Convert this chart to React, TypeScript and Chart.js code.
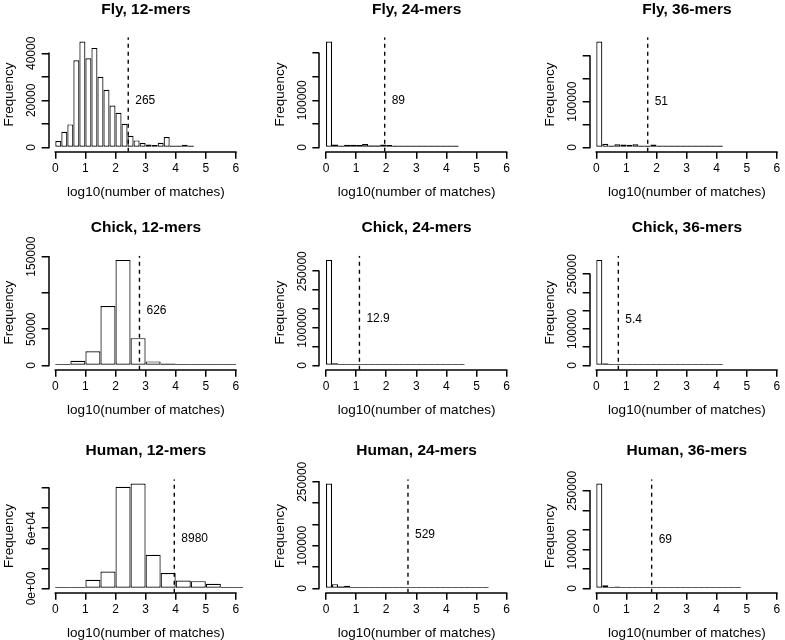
import React, { useEffect, useRef } from 'react';
import { Chart, registerables } from 'chart.js';

Chart.register(...registerables);

const FONT = '"Liberation Sans", Arial, Helvetica, sans-serif';

// ---------- data ----------
const titles = [
  'Fly, 12-mers', 'Fly, 24-mers', 'Fly, 36-mers',
  'Chick, 12-mers', 'Chick, 24-mers', 'Chick, 36-mers',
  'Human, 12-mers', 'Human, 24-mers', 'Human, 36-mers',
];
const binWidths = [0.2, 0.2, 0.2, 0.5, 0.2, 0.2, 0.5, 0.2, 0.2];

const fly12Counts = [2700, 6700, 9800, 37000, 45000, 37900, 42300, 30000, 24500, 17800, 14700, 10100, 5000, 3000, 1850, 1300, 1000, 2000, 4400, 600, 400, 1100, 300];
const fly24Counts = [224800, 6500, 3600, 5800, 5800, 5000, 7200, 4300, 4300, 6500, 5000, 2900, 1400, 700, 500, 500, 600, 2200, 800, 400, 300, 200];
const fly36Counts = [231500, 7900, 3600, 7200, 6500, 5800, 7200, 3600, 2900, 6500, 3600, 1400, 700, 500, 400, 500, 1800, 600, 300, 200, 150];
const chick12Counts = [1400, 6500, 19500, 82000, 145500, 37700, 5600, 2300, 1000, 500, 300, 400];
const chick24Counts = [280000, 6200, 2800, 2200, 1500, 1100, 900, 800, 700, 600, 500, 400, 350, 300, 300, 250, 200, 200, 150, 150, 100, 100, 100];
const chick36Counts = [289000, 5500, 2500, 1800, 1200, 900, 700, 600, 500, 450, 400, 350, 300, 250, 200, 200, 150, 150, 100, 100, 100];
const human12Counts = [200, 1300, 8600, 16900, 101200, 104400, 33500, 15300, 7900, 7300, 4600, 300, 200];
const human24Counts = [246000, 10200, 4700, 6200, 3100, 2500, 2000, 1800, 1500, 1300, 1200, 1000, 900, 900, 800, 800, 700, 700, 900, 600, 500, 400, 300, 300, 200, 200, 150];
const human36Counts = [268500, 8500, 3000, 4300, 2500, 1800, 1500, 1300, 1100, 1000, 900, 800, 700, 600, 600, 500, 500, 400, 400, 300, 300, 200, 200, 150];

const counts = [fly12Counts, fly24Counts, fly36Counts, chick12Counts, chick24Counts, chick36Counts, human12Counts, human24Counts, human36Counts];

const thresholds = [265, 89, 51, 626, 12.9, 5.4, 8980, 529, 69];
const thresholdLabels = ['265', '89', '51', '626', '12.9', '5.4', '8980', '529', '69'];
const thresholdLabelY = [20000, 100000, 100000, 75000, 125000, 125000, 50000, 125000, 125000];

const xTicks = [0, 1, 2, 3, 4, 5, 6];

const yTicksA = [0, 10000, 20000, 30000, 40000];
const yTicksB = [0, 50000, 100000, 150000, 200000];
const yTicksC = [0, 50000, 100000, 150000];
const yTicksD = [0, 50000, 100000, 150000, 200000, 250000];
const yTicksE = [0, 20000, 40000, 60000, 80000, 100000];
const yLabelsA = ['0', '', '20000', '', '40000'];
const yLabelsB = ['0', '', '100000', '', ''];
const yLabelsC = ['0', '50000', '', '150000'];
const yLabelsD = ['0', '', '100000', '', '', '250000'];
const yLabelsE = ['0e+00', '', '', '6e+04', '', ''];

const yTicks = [yTicksA, yTicksB, yTicksB, yTicksC, yTicksD, yTicksD, yTicksE, yTicksD, yTicksD];
const yTickLabels = [yLabelsA, yLabelsB, yLabelsB, yLabelsC, yLabelsD, yLabelsD, yLabelsE, yLabelsD, yLabelsD];

// ---------- layout (pixels) ----------
const ZERO_X = [55.3, 326, 596.3];
const UNIT = 30.1;
const X_MIN = -0.22;
const X_MAX = 6.24;
const PLOT_TOP = [37.3, 255.7, 479.3];
const PLOT_BOTTOM = [151.7, 369.7, 592.7];
const TITLE_Y = [9.5, 228, 450.5];
const CANVAS_LEFT = [0, 262, 524];
const CANVAS_W = [262, 262, 261];
const CANVAS_TOP = [0, 213, 426];
const CANVAS_H = [214, 214, 220];

const TITLE_SIZE = 15.5;
const AXIS_TITLE_SIZE = 13.5;
const TICK_SIZE = 12;
const TEXT_SIZE = 12;
const AXIS_LW = 1.5;

// a bar whose outline collapses to a line (less than ~2 px tall), as R draws it
function isFlat(ctx: any) {
  const ys = ctx.chart.scales.y;
  const v = ctx.raw && typeof ctx.raw.y === 'number' ? ctx.raw.y : 0;
  if (!ys) return false;
  return ys.getPixelForValue(0) - ys.getPixelForValue(v) < 2.2;
}

function Panel({ idx }: { idx: number }) {
  const ref = useRef<HTMLCanvasElement | null>(null);
  const r = Math.floor(idx / 3);
  const c = idx % 3;
  const cl = CANVAS_LEFT[c];
  const ct = CANVAS_TOP[r];
  const W = CANVAS_W[c];
  const H = CANVAS_H[r];

  useEffect(() => {
    const canvas = ref.current;
    if (!canvas) return;
    const L = ZERO_X[c] + X_MIN * UNIT - cl;
    const R = ZERO_X[c] + X_MAX * UNIT - cl;
    const T = PLOT_TOP[r] - ct;
    const B = PLOT_BOTTOM[r] - ct;
    const lhY = AXIS_TITLE_SIZE * 1.2;
    const padLeft = L - 39 - lhY / 2;
    const yw = L - padLeft;
    const padRight = W - R;
    const lhT = TITLE_SIZE * 1.2;
    const tpTop = TITLE_Y[r] - ct - lhT / 2;
    const tpBottom = T - tpTop - lhT;
    const xh = 41 + lhY / 2;
    const padBottom = H - B - xh;

    const values = counts[idx];
    const bw = binWidths[idx];
    const barData = values.map((v, k) => ({ x: (k + 0.5) * bw, y: v }));
    const M = Math.max(...values);
    const yMin = -0.04 * M;
    const yMax = 1.04 * M;
    const tx = Math.log10(thresholds[idx]);

    const rAxes = {
      id: 'rAxes',
      afterDraw(chart: any) {
        const { ctx } = chart;
        const xs = chart.scales.x;
        const ys = chart.scales.y;
        ctx.save();
        ctx.strokeStyle = '#000';
        ctx.lineWidth = AXIS_LW;
        ctx.lineCap = 'square';
        // x axis line
        const yLine = Math.round(xs.top);
        ctx.beginPath();
        ctx.moveTo(xs.getPixelForValue(xTicks[0]), yLine);
        ctx.lineTo(xs.getPixelForValue(xTicks[xTicks.length - 1]), yLine);
        ctx.stroke();
        // y axis line
        const xLine = Math.round(ys.right);
        const yt = yTicks[idx];
        ctx.beginPath();
        ctx.moveTo(xLine, ys.getPixelForValue(yt[0]));
        ctx.lineTo(xLine, ys.getPixelForValue(yt[yt.length - 1]));
        ctx.stroke();
        // y tick labels (rotated, R style)
        ctx.fillStyle = '#000';
        ctx.font = `${TICK_SIZE}px ${FONT}`;
        ctx.textAlign = 'center';
        ctx.textBaseline = 'middle';
        const labs = yTickLabels[idx];
        yt.forEach((v, k) => {
          if (!labs[k]) return;
          ctx.save();
          ctx.translate(ys.right - 16.5, ys.getPixelForValue(v));
          ctx.rotate(-Math.PI / 2);
          ctx.fillText(labs[k], 0, 0);
          ctx.restore();
        });
        // threshold label
        ctx.font = `${TEXT_SIZE}px ${FONT}`;
        ctx.textAlign = 'left';
        ctx.fillText(thresholdLabels[idx], xs.getPixelForValue(tx) + 7, ys.getPixelForValue(thresholdLabelY[idx]));
        ctx.restore();
      },
    };

    const chart = new Chart(canvas, {
      type: 'bar',
      data: {
        datasets: [
          {
            type: 'bar',
            data: barData as any,
            backgroundColor: (ctx: any) => (isFlat(ctx) ? '#222222' : '#ffffff'),
            borderColor: '#000000',
            borderWidth: (ctx: any) => (isFlat(ctx) ? 0 : 1.2),
            borderSkipped: false,
            inflateAmount: 0,
            barPercentage: 1,
            categoryPercentage: 1,
            minBarLength: 1.6,
            order: 2,
          } as any,
          {
            type: 'line',
            data: [{ x: tx, y: yMin }, { x: tx, y: yMax }] as any,
            borderColor: '#000000',
            borderWidth: 1.4,
            borderDash: [4, 4],
            pointRadius: 0,
            fill: false,
            order: 1,
          } as any,
        ],
      },
      options: {
        responsive: false,
        animation: false,
        devicePixelRatio: 1,
        events: [],
        layout: { padding: { left: padLeft, right: padRight, top: 0, bottom: padBottom } },
        plugins: {
          legend: { display: false },
          tooltip: { enabled: false },
          title: {
            display: true,
            text: titles[idx],
            fullSize: false,
            color: '#000',
            font: { family: FONT, size: TITLE_SIZE, weight: 'bold' },
            padding: { top: tpTop, bottom: tpBottom },
          },
        },
        scales: {
          x: {
            type: 'linear',
            min: X_MIN,
            max: X_MAX,
            offset: false,
            afterBuildTicks: (s: any) => {
              s.ticks = xTicks.map((v) => ({ value: v }));
            },
            afterFit: (s: any) => {
              s.height = xh;
            },
            grid: { display: true, drawOnChartArea: false, drawTicks: true, tickLength: 7, color: '#000', offset: false, lineWidth: AXIS_LW },
            border: { display: false },
            ticks: {
              color: '#000',
              font: { family: FONT, size: TICK_SIZE },
              padding: 3,
              maxRotation: 0,
              minRotation: 0,
              autoSkip: false,
              callback: (v: any) => String(v),
            },
            title: {
              display: true,
              text: 'log10(number of matches)',
              color: '#000',
              font: { family: FONT, size: AXIS_TITLE_SIZE },
              padding: { top: 0, bottom: 0 },
            },
          },
          y: {
            type: 'linear',
            min: yMin,
            max: yMax,
            afterBuildTicks: (s: any) => {
              s.ticks = yTicks[idx].map((v) => ({ value: v }));
            },
            afterFit: (s: any) => {
              s.width = yw;
            },
            grid: { display: true, drawOnChartArea: false, drawTicks: true, tickLength: 7, color: '#000', lineWidth: AXIS_LW },
            border: { display: false },
            ticks: { display: false },
            title: {
              display: true,
              text: 'Frequency',
              color: '#000',
              font: { family: FONT, size: AXIS_TITLE_SIZE },
              padding: { top: 0, bottom: 0 },
            },
          },
        },
      } as any,
      plugins: [rAxes],
    });
    return () => chart.destroy();
  }, [idx]);

  return (
    <canvas
      ref={ref}
      width={W}
      height={H}
      style={{ position: 'absolute', left: cl, top: ct, width: W, height: H }}
    />
  );
}

export default function App() {
  return (
    <div
      style={{
        position: 'absolute',
        left: 0,
        top: 0,
        width: 785,
        height: 640,
        overflow: 'hidden',
        background: '#ffffff',
      }}
    >
      {titles.map((_, i) => (
        <Panel key={i} idx={i} />
      ))}
    </div>
  );
}
